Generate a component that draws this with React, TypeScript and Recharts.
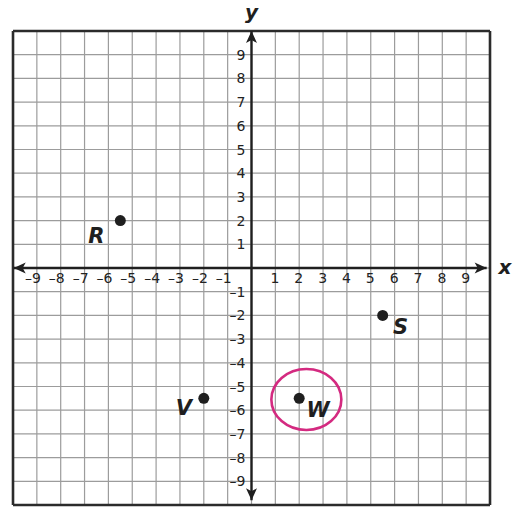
import React from 'react';
import {
  ScatterChart,
  Scatter,
  XAxis,
  YAxis,
  ReferenceLine,
  ReferenceDot,
} from 'recharts';

// grid lines, one per unit
const gridValues = [-10, -9, -8, -7, -6, -5, -4, -3, -2, -1, 0, 1, 2, 3, 4, 5, 6, 7, 8, 9, 10];
// the frame around the grid
const frameValues = [-10, 10];
// numbers printed along the axes
const xTickLabels = [-9, -8, -7, -6, -5, -4, -3, -2, -1, 1, 2, 3, 4, 5, 6, 7, 8, 9];
const yTickLabels = [9, 8, 7, 6, 5, 4, 3, 2, 1, -1, -2, -3, -4, -5, -6, -7, -8, -9];

// plotted points
const pointNames = ['R', 'S', 'V', 'W'];
const pointX = [-5.5, 5.5, -2, 2];
const pointY = [2, -2, -5.5, -5.5];

// hand-drawn circle around W
const circledX = 2.3;
const circledY = -5.55;

const INK = '#1f1f1f';
const GRID = '#9c9c9c';
const PINK = '#d42a80';
const FONT = '"DejaVu Sans", Verdana, sans-serif';

const LABEL_OFFSET: Record<string, [number, number]> = {
  R: [-24, 22],
  S: [18, 19],
  V: [-20, 17],
  W: [19, 19],
};

const fmt = (v: number) => (v < 0 ? '\u2013' + Math.abs(v) : String(v));

const points = pointNames.map((name, i) => ({ name, x: pointX[i], y: pointY[i] }));
const xTickData = xTickLabels.map((v) => ({ x: v, y: 0 }));
const yTickData = yTickLabels.map((v) => ({ x: 0, y: v }));

const arrowHead = (x: number, y: number, a: number) => {
  const len = 12;
  const half = 5.5;
  const bx = x - len * Math.cos(a);
  const by = y - len * Math.sin(a);
  const nx = -Math.sin(a);
  const ny = Math.cos(a);
  return `${x},${y} ${bx + half * nx},${by + half * ny} ${bx + 3 * Math.cos(a)},${by + 3 * Math.sin(a)} ${bx - half * nx},${by - half * ny}`;
};

const ArrowLine = (props: any) => {
  const { x1, y1, x2, y2 } = props;
  const a = Math.atan2(y2 - y1, x2 - x1);
  return (
    <g>
      <line x1={x1} y1={y1} x2={x2} y2={y2} stroke={INK} strokeWidth={2.4} />
      <polygon points={arrowHead(x2, y2, a)} fill={INK} />
      <polygon points={arrowHead(x1, y1, a + Math.PI)} fill={INK} />
    </g>
  );
};

const XTick = (props: any) => (
  <text x={props.cx + 4} y={props.cy + 15} textAnchor="end" fontSize={14} fontFamily={FONT} fill="#222">
    {fmt(props.payload.x)}
  </text>
);

const YTick = (props: any) => (
  <text x={props.cx - 6} y={props.cy + 5} textAnchor="end" fontSize={14} fontFamily={FONT} fill="#222">
    {fmt(props.payload.y)}
  </text>
);

const PointDot = (props: any) => {
  const { cx, cy, payload } = props;
  const [dx, dy] = LABEL_OFFSET[payload.name] || [0, 0];
  return (
    <g>
      <circle cx={cx} cy={cy} r={5.5} fill={INK} />
      <text
        x={cx + dx}
        y={cy + dy}
        textAnchor="middle"
        fontSize={21}
        fontWeight="bold"
        fontStyle="italic"
        fontFamily={FONT}
        fill={INK}
      >
        {payload.name}
      </text>
    </g>
  );
};

const axisTitle = (text: string, dx: number, dy: number) => (props: any) => (
  <text
    x={props.cx + dx}
    y={props.cy + dy}
    textAnchor="middle"
    fontSize={20}
    fontWeight="bold"
    fontStyle="italic"
    fontFamily={FONT}
    fill={INK}
  >
    {text}
  </text>
);

export default function App() {
  return (
    <div style={{ position: 'absolute', left: 0, top: 0, background: '#fff' }}>
      <ScatterChart width={513} height={508} margin={{ top: 31, right: 23, bottom: 3, left: 13 }}>
        <XAxis type="number" dataKey="x" domain={[-10, 10]} ticks={gridValues} hide allowDataOverflow />
        <YAxis type="number" dataKey="y" domain={[-10, 10]} ticks={gridValues} hide allowDataOverflow />
        {gridValues.map((v) => (
          <ReferenceLine key={`gx${v}`} x={v} stroke={GRID} strokeWidth={1.2} />
        ))}
        {gridValues.map((v) => (
          <ReferenceLine key={`gy${v}`} y={v} stroke={GRID} strokeWidth={1.2} />
        ))}
        {frameValues.map((v) => (
          <ReferenceLine key={`fx${v}`} x={v} stroke="#2b2b2b" strokeWidth={2.6} />
        ))}
        {frameValues.map((v) => (
          <ReferenceLine key={`fy${v}`} y={v} stroke="#2b2b2b" strokeWidth={2.6} />
        ))}
        <ReferenceLine segment={[{ x: -9.97, y: 0 }, { x: 9.86, y: 0 }]} shape={ArrowLine} />
        <ReferenceLine segment={[{ x: 0, y: -9.8 }, { x: 0, y: 10 }]} shape={ArrowLine} />
        <Scatter data={xTickData} shape={XTick} isAnimationActive={false} />
        <Scatter data={yTickData} shape={YTick} isAnimationActive={false} />
        <Scatter data={points} shape={PointDot} isAnimationActive={false} />
        <ReferenceDot
          x={circledX}
          y={circledY}
          r={32}
          shape={(p: any) => (
            <ellipse cx={p.cx} cy={p.cy} rx={35} ry={30.5} fill="none" stroke={PINK} strokeWidth={2.6} />
          )}
        />
        <ReferenceDot x={10} y={0} r={1} shape={axisTitle('x', 15, 6)} />
        <ReferenceDot x={0} y={10} r={1} shape={axisTitle('y', 0, -12)} />
      </ScatterChart>
    </div>
  );
}
